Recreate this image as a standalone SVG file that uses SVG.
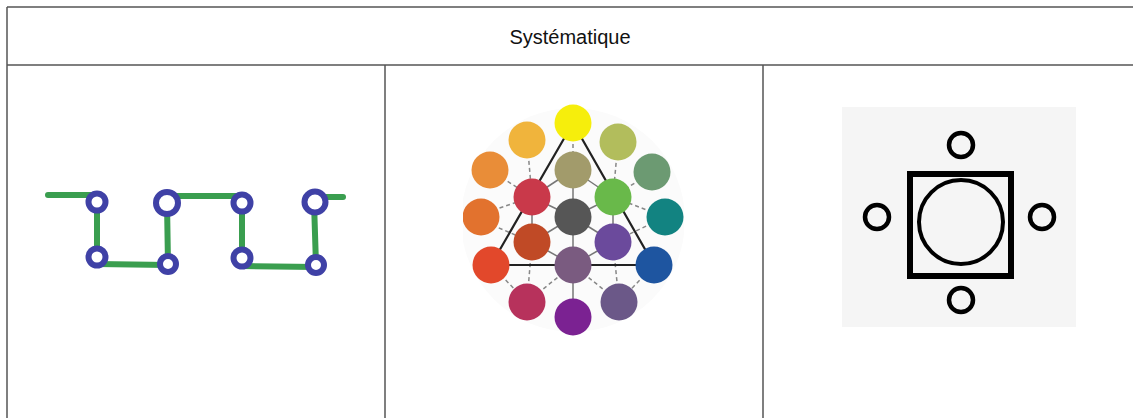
<svg xmlns="http://www.w3.org/2000/svg" width="1133" height="418" viewBox="0 0 1133 418">
  <style>
    .grid { stroke: #555; stroke-width: 1.5; fill: none; }
    .title { font-family: "Liberation Sans", Arial, sans-serif; font-size: 20px; fill: #111; text-anchor: middle; }
    .gl { stroke: #3a9e4f; stroke-width: 6; stroke-linecap: round; fill: none; }
    .bc { stroke: #3f41a6; stroke-width: 6; fill: #fff; }
    .tri { stroke: #222; stroke-width: 2.2; fill: none; }
    .sl { stroke: #777; stroke-width: 1.5; fill: none; }
    .dl { stroke: #888; stroke-width: 1.5; stroke-dasharray: 4 3; fill: none; }
    .bk { stroke: #000; fill: none; }
  </style>
  <rect width="1133" height="418" fill="#fff"/>
  <g id="table">
    <line class="grid" x1="7" y1="7" x2="1133" y2="7"/>
    <line class="grid" x1="7" y1="7" x2="7" y2="418"/>
    <line class="grid" x1="7" y1="65" x2="1133" y2="65"/>
    <line class="grid" x1="385" y1="65" x2="385" y2="418"/>
    <line class="grid" x1="763" y1="65" x2="763" y2="418" stroke="#222"/>
    <text class="title" x="570" y="44">Systématique</text>
  </g>
  <g id="cell-network">
    <g id="connectors-network">
      <line class="gl" x1="48" y1="195" x2="97" y2="195"/>
      <line class="gl" x1="97" y1="202" x2="97" y2="257"/>
      <line class="gl" x1="97" y1="264" x2="168" y2="265"/>
      <line class="gl" x1="167" y1="203" x2="168" y2="264"/>
      <line class="gl" x1="167" y1="196" x2="242" y2="196"/>
      <line class="gl" x1="242" y1="203" x2="242" y2="258"/>
      <line class="gl" x1="242" y1="266" x2="316" y2="267"/>
      <line class="gl" x1="314" y1="202" x2="316" y2="265"/>
      <line class="gl" x1="315" y1="197" x2="343" y2="197"/>
    </g>
    <circle class="bc" cx="97" cy="202" r="8.5"/>
    <circle class="bc" cx="167" cy="203" r="11"/>
    <circle class="bc" cx="242" cy="203" r="8.5"/>
    <circle class="bc" cx="315" cy="202" r="10.5"/>
    <circle class="bc" cx="97" cy="257" r="8.5"/>
    <circle class="bc" cx="168" cy="264" r="8"/>
    <circle class="bc" cx="242" cy="258" r="8.5"/>
    <circle class="bc" cx="316" cy="265" r="8"/>
  </g>
  <g id="cell-colour-wheel">
    <circle cx="573" cy="220" r="112" fill="#fbfbfb"/>
    <g id="connectors-wheel">
      <line class="dl" x1="573" y1="123" x2="573" y2="170"/>
      <line class="dl" x1="527" y1="140" x2="532" y2="197"/>
      <line class="dl" x1="618" y1="142" x2="613" y2="197"/>
      <line class="dl" x1="490" y1="170" x2="532" y2="197"/>
      <line class="dl" x1="652" y1="172" x2="613" y2="197"/>
      <line class="dl" x1="473" y1="217" x2="532" y2="197"/>
      <line class="dl" x1="665" y1="217" x2="613" y2="197"/>
      <line class="dl" x1="473" y1="217" x2="532" y2="242"/>
      <line class="dl" x1="665" y1="217" x2="613" y2="242"/>
      <line class="dl" x1="527" y1="302" x2="532" y2="242"/>
      <line class="dl" x1="619" y1="302" x2="613" y2="242"/>
      <line class="dl" x1="527" y1="302" x2="573" y2="265"/>
      <line class="dl" x1="619" y1="302" x2="573" y2="265"/>
      <line class="dl" x1="491" y1="265" x2="527" y2="302"/>
      <line class="dl" x1="654" y1="265" x2="619" y2="302"/>
      <line class="sl" x1="573" y1="170" x2="532" y2="197"/>
      <line class="sl" x1="573" y1="170" x2="613" y2="197"/>
      <line class="sl" x1="573" y1="170" x2="573" y2="217"/>
      <line class="sl" x1="532" y1="197" x2="573" y2="217"/>
      <line class="sl" x1="613" y1="197" x2="573" y2="217"/>
      <line class="sl" x1="532" y1="242" x2="573" y2="217"/>
      <line class="sl" x1="613" y1="242" x2="573" y2="217"/>
      <line class="sl" x1="573" y1="217" x2="573" y2="317"/>
      <line class="sl" x1="532" y1="242" x2="573" y2="265"/>
      <line class="sl" x1="613" y1="242" x2="573" y2="265"/>
      <line class="sl" x1="532" y1="197" x2="532" y2="242"/>
      <line class="sl" x1="613" y1="197" x2="613" y2="242"/>
      <polygon class="tri" points="573,123 491,265 654,265"/>
    </g>
    <circle cx="573" cy="123" r="18.5" fill="#f6ee0c"/>
    <circle cx="527" cy="140" r="18.5" fill="#f0b43c"/>
    <circle cx="618" cy="142" r="18.5" fill="#b2bd5c"/>
    <circle cx="490" cy="170" r="18.5" fill="#e98d38"/>
    <circle cx="652" cy="172" r="18.5" fill="#6c9a72"/>
    <circle cx="481" cy="217" r="18.5" fill="#e2722e"/>
    <circle cx="665" cy="217" r="18.5" fill="#128381"/>
    <rect x="455" y="195" width="8" height="45" fill="#fff"/>
    <rect x="684" y="195" width="8" height="45" fill="#fff"/>
    <circle cx="491" cy="265" r="18.5" fill="#e2482b"/>
    <circle cx="654" cy="265" r="18.5" fill="#1e55a0"/>
    <circle cx="527" cy="302" r="18.5" fill="#b7325c"/>
    <circle cx="619" cy="302" r="18.5" fill="#6b5888"/>
    <circle cx="573" cy="317" r="18.5" fill="#7b2292"/>
    <circle cx="573" cy="170" r="18.5" fill="#a29b6b"/>
    <circle cx="532" cy="197" r="18.5" fill="#c9394a"/>
    <circle cx="613" cy="197" r="18.5" fill="#69b94a"/>
    <circle cx="573" cy="217" r="18.5" fill="#565656"/>
    <circle cx="532" cy="242" r="18.5" fill="#c04a26"/>
    <circle cx="613" cy="242" r="18.5" fill="#6b4a9c"/>
    <circle cx="573" cy="265" r="18.5" fill="#7a5b80"/>
  </g>
  <g id="cell-square-symbol">
    <rect x="842" y="107" width="234" height="220" fill="#f5f5f5"/>
    <rect class="bk" x="910" y="174" width="101" height="102" stroke-width="6"/>
    <circle class="bk" cx="961" cy="222" r="42" stroke-width="4"/>
    <circle class="bk" cx="961" cy="145" r="12" stroke-width="4.5"/>
    <circle class="bk" cx="877" cy="217" r="12" stroke-width="4.5"/>
    <circle class="bk" cx="1042" cy="217" r="12" stroke-width="4.5"/>
    <circle class="bk" cx="961" cy="300" r="12" stroke-width="4.5"/>
  </g>
</svg>
